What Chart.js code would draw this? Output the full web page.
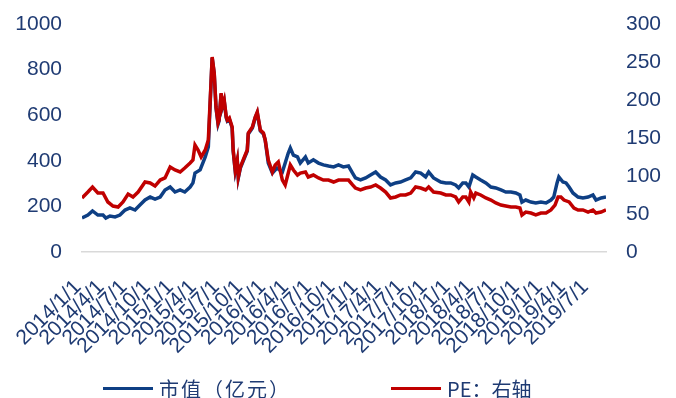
<!DOCTYPE html>
<html>
<head>
<meta charset="utf-8">
<script src="https://cdn.jsdelivr.net/npm/chart.js@4"></script>
<style>
  html, body { margin: 0; padding: 0; background: #ffffff; }
  #wrap { position: relative; width: 676px; height: 398px; }
  #chart { position: absolute; left: 0; top: 0; }
  .legend-item {
    position: absolute; top: 376px; height: 24px;
    display: flex; align-items: center; white-space: nowrap;
    font: 20px "Noto Sans CJK SC", "Liberation Sans", sans-serif; color: #1F3B73;
  }
  .legend-item i { display: inline-block; width: 50px; height: 3px; margin-right: 6px; }
</style>
</head>
<body>
<div id="wrap">
  <canvas id="chart" width="676" height="398"></canvas>
  <div class="legend-item" style="left:103px;letter-spacing:2px"><i style="background:#0E3F84"></i>市值（亿元）</div>
  <div class="legend-item" style="left:391px"><i style="background:#C00000"></i>PE：右轴</div>
</div>
<script>
// Market value (100 million yuan), left axis
const mvDates = [
  '2014-01-17','2014-02-10','2014-02-28','2014-03-19','2014-04-09','2014-04-20','2014-05-06','2014-05-26',
  '2014-06-15','2014-07-05','2014-07-24','2014-08-14','2014-09-03','2014-09-23','2014-10-13','2014-11-02',
  '2014-11-22','2014-12-11','2015-01-01','2015-01-20','2015-02-10','2015-02-28','2015-03-19','2015-03-30',
  '2015-04-08','2015-04-28','2015-05-18','2015-05-30','2015-06-11','2015-06-15','2015-06-23','2015-06-30',
  '2015-07-08','2015-07-12','2015-07-20','2015-07-24','2015-08-02','2015-08-10','2015-08-14','2015-08-22',
  '2015-09-03','2015-09-07','2015-09-15','2015-09-23','2015-09-27','2015-10-05','2015-10-16','2015-11-02',
  '2015-11-06','2015-11-22','2015-12-03','2015-12-11','2015-12-23','2016-01-05','2016-01-12','2016-01-24',
  '2016-02-10','2016-02-28','2016-03-19','2016-03-30','2016-04-12','2016-04-20','2016-05-02','2016-05-18',
  '2016-05-29','2016-06-19','2016-06-30','2016-07-20','2016-08-10','2016-08-29','2016-09-19','2016-10-09',
  '2016-10-28','2016-11-17','2016-12-07','2016-12-23','2017-01-04','2017-01-24','2017-02-14','2017-03-03',
  '2017-03-23','2017-04-12','2017-05-02','2017-05-21','2017-06-11','2017-06-30','2017-07-20','2017-08-10',
  '2017-08-29','2017-09-19','2017-10-08','2017-10-20','2017-11-09','2017-12-07','2017-12-27','2018-01-16',
  '2018-02-05','2018-02-17','2018-03-03','2018-03-15','2018-03-27','2018-04-12','2018-04-24','2018-05-13',
  '2018-06-03','2018-06-23','2018-07-12','2018-08-02','2018-08-21','2018-09-11','2018-09-30','2018-10-16',
  '2018-10-24','2018-11-09','2018-11-29','2018-12-18','2019-01-08','2019-01-28','2019-02-17','2019-02-28',
  '2019-03-11','2019-03-18','2019-04-04','2019-04-16','2019-04-28','2019-05-13','2019-06-03','2019-06-22',
  '2019-07-12','2019-08-01','2019-08-13','2019-09-03','2019-09-22'
];
const mvValues = [
  149,162,180,162,162,149,158,154,
  162,184,193,184,206,228,241,232,
  241,272,285,263,272,263,285,303,
  346,360,417,461,750,851,781,632,
  561,575,693,632,662,588,575,583,
  544,443,355,399,325,368,399,443,
  518,544,588,610,531,518,491,390,
  346,368,351,390,434,456,425,417,
  390,417,390,404,390,382,377,373,
  382,373,377,346,325,316,325,338,
  351,329,316,294,303,307,316,325,
  351,346,329,351,325,307,303,303,
  294,281,303,303,285,338,329,316,
  303,285,281,272,263,263,259,250,
  219,228,219,215,219,215,228,241,
  303,329,307,303,285,259,241,237,
  241,250,228,237,241
];

// PE ratio, right axis
const peDates = [
  '2014-01-17','2014-02-10','2014-02-28','2014-03-19','2014-04-09','2014-04-28','2014-05-18','2014-06-08',
  '2014-06-27','2014-07-17','2014-08-06','2014-08-26','2014-09-23','2014-10-13','2014-11-02','2014-11-22',
  '2014-12-11','2015-01-01','2015-01-20','2015-02-10','2015-02-28','2015-03-19','2015-03-30','2015-04-08',
  '2015-04-20','2015-05-02','2015-05-18','2015-05-30','2015-06-11','2015-06-15','2015-06-23','2015-06-30',
  '2015-07-08','2015-07-12','2015-07-20','2015-07-24','2015-08-02','2015-08-10','2015-08-14','2015-08-22',
  '2015-09-03','2015-09-07','2015-09-15','2015-09-23','2015-09-27','2015-10-05','2015-10-16','2015-11-02',
  '2015-11-06','2015-11-22','2015-12-03','2015-12-11','2015-12-23','2016-01-05','2016-01-12','2016-01-24',
  '2016-02-10','2016-02-21','2016-03-03','2016-03-19','2016-03-30','2016-04-08','2016-04-20','2016-05-02',
  '2016-05-18','2016-05-29','2016-06-19','2016-06-30','2016-07-20','2016-08-10','2016-08-29','2016-09-19',
  '2016-10-09','2016-10-28','2016-11-17','2016-12-07','2016-12-23','2017-01-04','2017-01-24','2017-02-14',
  '2017-03-03','2017-03-23','2017-04-12','2017-05-02','2017-05-21','2017-06-11','2017-06-30','2017-07-20',
  '2017-08-10','2017-08-29','2017-09-19','2017-10-08','2017-10-20','2017-11-09','2017-12-07','2017-12-27',
  '2018-01-16','2018-02-05','2018-02-17','2018-03-03','2018-03-15','2018-03-27','2018-04-04','2018-04-16',
  '2018-04-24','2018-05-13','2018-06-03','2018-06-23','2018-07-12','2018-08-02','2018-08-21','2018-09-11',
  '2018-09-30','2018-10-16','2018-10-24','2018-11-09','2018-11-29','2018-12-18','2019-01-08','2019-01-28',
  '2019-02-17','2019-03-03','2019-03-15','2019-03-26','2019-04-08','2019-04-28','2019-05-17','2019-06-03',
  '2019-06-22','2019-07-12','2019-08-01','2019-08-13','2019-09-03','2019-09-22'
];
const peValues = [
  71.1,78.9,85.5,77.6,77.6,65.8,60.5,59.2,
  65.8,76.3,72.4,78.9,92.1,90.8,86.8,94.7,
  97.4,111.8,107.9,105.3,110.5,117.1,121.1,140.8,
  134.2,125.0,134.2,147.4,226.3,256.6,235.5,190.8,
  169.7,173.7,209.2,190.8,200.0,177.6,173.7,176.3,
  164.5,134.2,107.9,121.1,98.7,111.8,121.1,134.2,
  156.6,164.5,177.6,184.2,160.5,156.6,147.4,121.1,
  105.3,114.5,118.4,94.7,88.2,98.7,114.5,107.9,
  101.3,103.9,105.3,98.7,101.3,97.4,94.7,94.7,
  92.1,94.7,94.7,94.7,88.2,84.2,81.6,84.2,
  85.5,88.2,84.2,78.9,71.1,72.4,75.0,75.0,
  77.6,85.5,84.2,81.6,85.5,78.9,77.6,75.0,
  75.0,72.4,65.8,72.4,72.4,65.8,78.9,71.1,
  77.6,75.0,71.1,68.4,64.5,61.8,60.5,59.2,
  59.2,57.9,48.7,52.6,51.3,48.7,51.3,51.3,
  55.3,61.8,72.4,72.4,68.4,65.8,57.9,55.3,
  55.3,52.6,55.3,51.3,52.6,55.3
];

// Quarterly axis labels
const tickLabels = [
  '2014/1/1','2014/4/1','2014/7/1','2014/10/1','2015/1/1','2015/4/1','2015/7/1','2015/10/1',
  '2016/1/1','2016/4/1','2016/7/1','2016/10/1','2017/1/1','2017/4/1','2017/7/1','2017/10/1',
  '2018/1/1','2018/4/1','2018/7/1','2018/10/1','2019/1/1','2019/4/1','2019/7/1'
];

// Dates become month offsets from 2014-01-01
function toMonth(s) {
  const [y, m, d] = s.split('-').map(Number);
  return (y - 2014) * 12 + (m - 1) + (d - 1) / 30;
}
function labelMonth(s) {
  const [y, m] = s.split('/').map(Number);
  return (y - 2014) * 12 + (m - 1);
}
const pairs = (dates, vals) => dates.map((d, i) => ({ x: toMonth(d), y: vals[i] }));

const NAVY = '#1F3B73';
const tickFont = { family: '"Liberation Sans", Arial, sans-serif', size: 21 };

// Fixed axis sizes so the plot area keeps its place
function fixSize(w, h) {
  return (scale) => {
    if (w !== null) scale.width = w;
    if (h !== null) scale.height = h;
    scale.paddingLeft = 0; scale.paddingRight = 0;
    scale.paddingTop = 0; scale.paddingBottom = 0;
  };
}

new Chart(document.getElementById('chart'), {
  type: 'line',
  data: {
    datasets: [
      {
        label: '市值（亿元）',
        data: pairs(mvDates, mvValues),
        yAxisID: 'y',
        borderColor: '#0E3F84',
        borderWidth: 3.5,
        pointRadius: 0,
        tension: 0,
        order: 2
      },
      {
        label: 'PE：右轴',
        data: pairs(peDates, peValues),
        yAxisID: 'y1',
        borderColor: '#C00000',
        borderWidth: 3.5,
        pointRadius: 0,
        tension: 0,
        order: 1
      }
    ]
  },
  options: {
    responsive: false,
    animation: false,
    layout: { padding: { top: 24, left: 0, right: 0, bottom: 0 } },
    plugins: { legend: { display: false }, tooltip: { enabled: false } },
    scales: {
      x: {
        type: 'linear',
        min: toMonth(mvDates[0]),
        max: toMonth(mvDates[mvDates.length - 1]),
        grid: { display: false, drawTicks: false },
        border: { display: true, color: '#D9D9D9', width: 1.5 },
        afterBuildTicks: (scale) => {
          scale.ticks = tickLabels.map(t => ({ value: labelMonth(t), label: t }));
        },
        afterFit: fixSize(null, 146),
        ticks: {
          autoSkip: false,
          minRotation: 45,
          maxRotation: 45,
          padding: 23,
          labelOffset: 0,
          color: NAVY,
          font: tickFont,
          callback: (v) => {
            const t = tickLabels.find(l => labelMonth(l) === v);
            return t || '';
          }
        }
      },
      y: {
        position: 'left',
        min: 0, max: 1000,
        grid: { display: false, drawTicks: false },
        border: { display: false },
        afterFit: fixSize(82, null),
        ticks: { stepSize: 200, padding: 20, color: NAVY, font: tickFont, callback: (v) => String(v) }
      },
      y1: {
        position: 'right',
        min: 0, max: 300,
        grid: { display: false, drawTicks: false },
        border: { display: false },
        afterFit: fixSize(70, null),
        ticks: { stepSize: 50, padding: 20, color: NAVY, font: tickFont, callback: (v) => String(v) }
      }
    }
  }
});
</script>
</body>
</html>
